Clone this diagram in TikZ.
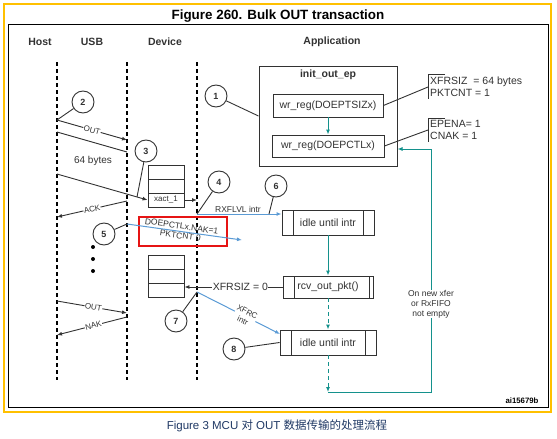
\documentclass[tikz,border=0pt]{standalone}
\usepackage{fontspec}
\setmainfont{Liberation Sans}
\newfontfamily\cjk{Noto Sans CJK SC}
\usetikzlibrary{arrows.meta}
\definecolor{stteal}{RGB}{20,145,140}
\definecolor{stblue}{RGB}{91,155,213}
\definecolor{stred}{RGB}{230,20,20}
\definecolor{storange}{RGB}{255,192,0}
\definecolor{stgrey}{RGB}{50,50,50}
\definecolor{capblue}{RGB}{31,56,100}
\tikzstyle{num}=[circle,draw=stgrey,line width=0.9pt,minimum size=22pt,inner sep=0pt,text=stgrey,font=\fontsize{9}{10}\selectfont\bfseries]
\tikzstyle{head}=[text=stgrey,font=\fontsize{10.5}{12}\selectfont\bfseries]
\tikzstyle{life}=[line width=1.4pt,dash pattern=on 4pt off 3pt]
\tikzstyle{wire}=[stgrey,line width=0.9pt]
\tikzstyle{msg}=[wire,-{Latex[length=5pt,width=4pt]}]
\tikzstyle{lbl}=[fill=white,inner sep=0.5pt,text=stgrey,font=\fontsize{8}{9}\selectfont]
\tikzstyle{reg}=[draw=stgrey,line width=0.9pt,minimum height=23pt,text=stgrey,font=\fontsize{10.5}{12}\selectfont]
\tikzstyle{cell}=[draw=stgrey,line width=0.9pt,minimum width=36pt,minimum height=14pt,inner sep=0pt,text=stgrey,font=\fontsize{8}{9}\selectfont]
\tikzstyle{note}=[anchor=west,align=left,inner sep=2pt,text=stgrey,font=\fontsize{10.5}{12}\selectfont]
\tikzstyle{flow}=[stteal,line width=1pt,-{Latex[length=5pt,width=4pt]}]
\tikzstyle{intr}=[stblue,line width=1pt,-{Latex[length=5pt,width=4pt]}]
\tikzset{proc/.style={draw=stgrey,line width=0.9pt,minimum height=25pt,text=stgrey,font=\fontsize{10.5}{12}\selectfont,
    path picture={\draw[stgrey,line width=0.9pt]
      ([xshift=11pt]path picture bounding box.north west) -- ([xshift=11pt]path picture bounding box.south west)
      ([xshift=-#1]path picture bounding box.north east) -- ([xshift=-#1]path picture bounding box.south east);}},
  proc/.default=11pt}

\begin{document}
\begin{tikzpicture}[x=1pt,y=-1pt]
    \useasboundingbox (0,0) rectangle (557,439);
    \draw[storange,line width=2.5pt] (4,4) rectangle (551,412);
    \draw[line width=1pt] (8,24) rectangle (548,407);
    \node[font=\fontsize{13.4}{15}\selectfont\bfseries] (title) at (278,16) {Figure 260. Bulk OUT transaction};
    \node[text=capblue,font=\fontsize{11.5}{13}\selectfont] (cap) at (277,426) {Figure 3 MCU {\cjk 对} OUT {\cjk 数据传输的处理流程}};
    \node[font=\fontsize{7.8}{9}\selectfont\bfseries] (ai) at (522,401) {ai15679b};
% lifelines
    \node[head] (host) at (40,42) {Host};
    \node[head] (usb) at (92,42) {USB};
    \node[head] (dev) at (165,42) {Device};
    \node[head] (app) at (332,42) {Application};
    \coordinate (hostT) at (57,62);   \coordinate (hostB) at (57,380);
    \coordinate (usbT) at (127,62);   \coordinate (usbB) at (127,380);
    \coordinate (devT) at (197,62);   \coordinate (devB) at (197,380);
    \draw[life] (hostT) -- (hostB);
    \draw[life] (usbT) -- (usbB);
    \draw[life] (devT) -- (devB);
% application side
    \node[draw=stgrey,line width=1pt,minimum width=138pt,minimum height=100pt] (init) at (328,116) {};
    \node[text=stgrey,font=\fontsize{10.5}{12}\selectfont\bfseries] (initl) at (328,75) {init\_out\_ep};
    \node[reg,minimum width=110pt] (tsiz) at (328,105.5) {wr\_reg(DOEPTSIZx)};
    \node[reg,minimum width=112pt,minimum height=22pt] (ctl) at (328,146) {wr\_reg(DOEPCTLx)};
    \node[note] (sz) at (428,87) {XFRSIZ\ \ = 64 bytes\\PKTCNT = 1};
    \node[note] (en) at (428,130) {EPENA= 1\\CNAK = 1};
    \draw[wire] ([xshift=17pt]sz.north west) -- (sz.north west) -- (sz.south west);
    \draw[wire] ([xshift=17pt]en.north west) -- (en.north west) -- (en.south west);
    \draw[wire] (tsiz.east) -- (sz.west);
    \draw[wire] (ctl.east) -- (en.west);
    \draw[flow] (tsiz) -- (ctl);
    \node[proc,minimum width=92pt] (idle1) at (328,222.5) {idle until intr};
    \node[proc=4pt,minimum width=90pt,minimum height=22pt] (rcv) at (328,287) {rcv\_out\_pkt()};
    \node[proc,minimum width=96pt] (idle2) at (328,342.5) {idle until intr};
    \draw[flow] (idle1) -- (rcv);
    \draw[flow,dash pattern=on 4pt off 3pt] (rcv) -- (idle2);
    \coordinate (loopB) at (328,392);
    \coordinate (loopR) at (431,392);
    \coordinate (loopT) at (431,149);
    \draw[flow,dash pattern=on 4pt off 3pt] (idle2) -- (loopB);
    \draw[flow] (loopB) -- (loopR) -- (loopT) -- (loopT -| init.east);
    \node[lbl,align=center,font=\fontsize{8.5}{10}\selectfont] (xfer) at (431,304) {On new xfer\\or RxFIFO\\not empty};
% fifo
    \node[cell] (u1) at (166,172) {};
    \node[cell] (u2) at (166,186) {};
    \node[cell] (u3) at (166,200) {xact\_1};
    \node[cell] (l1) at (166,262) {};
    \node[cell] (l2) at (166,276) {};
    \node[cell] (l3) at (166,290) {};
% host and usb
    \coordinate (out1s) at (57,120);  \coordinate (out1e) at (127,140);
    \coordinate (dat1s) at (57,132);  \coordinate (dat1e) at (127,152);
    \coordinate (dat2s) at (57,174);
    \coordinate (ack1s) at (127,201); \coordinate (ack1e) at (57,217);
    \coordinate (out2s) at (57,301);  \coordinate (out2e) at (127,313);
    \coordinate (nak1s) at (127,317); \coordinate (nak1e) at (57,335);
    \draw[msg] (out1s) -- node[lbl,sloped] {OUT} (out1e);
    \draw[wire] (dat1s) -- (dat1e);
    \draw[msg] (dat2s) -- (u3.west);
    \node[text=stgrey,font=\fontsize{10}{12}\selectfont] (bytes) at (93,161) {64 bytes};
    \draw[msg] (ack1s) -- node[lbl,sloped] {ACK} (ack1e);
    \draw[msg] (u3.east) -- (u3.east -| devT);
    \draw[msg] (out2s) -- node[lbl,sloped,pos=0.52] {OUT} (out2e);
    \draw[msg] (nak1s) -- node[lbl,sloped,pos=0.48] {NAK} (nak1e);
    \fill[black] (93,247) circle (2pt) (93,259) circle (2pt) (93,271) circle (2pt);
% interrupts
    \coordinate (rxs) at (197,214);
    \coordinate (p6) at (269,214);
    \coordinate (naks) at (127,224);
    \coordinate (nake) at (242,240);
    \coordinate (xcs) at (197,292);
    \coordinate (xce) at (280,334);
    \coordinate (p3) at (137,197);
    \draw[intr] (rxs) -- (rxs -| idle1.west);
    \node[text=stgrey,font=\fontsize{8.5}{10}\selectfont] (rxl) at (238,209) {RXFLVL intr};
    \node[draw=stred,line width=1.5pt,minimum width=88pt,minimum height=29pt] (nakbox) at (183,231.5) {};
    \node[rotate=-8,align=center,text=stgrey,font=\fontsize{8.5}{9.5}\selectfont] (naktxt) at (181,231) {DOEPCTLx.NAK=1\\PKTCNT 0};
    \draw[intr] (naks) -- (nake);
    \draw[msg] (rcv.west) -- node[lbl,pos=0.43,font=\fontsize{10.5}{12}\selectfont] {XFRSIZ = 0} (rcv.west -| l3.east);
    \draw[intr] (xcs) -- node[lbl,sloped,pos=0.58,align=center,font=\fontsize{8}{10}\selectfont] {XFRC\\intr} (xce);
% numbers
    \node[num] (c1) at (216,96) {1};
    \node[num] (c2) at (83,102) {2};
    \node[num] (c3) at (146,151) {3};
    \node[num] (c4) at (219,182) {4};
    \node[num] (c5) at (104,234) {5};
    \node[num] (c6) at (276,186) {6};
    \node[num] (c7) at (176,321) {7};
    \node[num] (c8) at (234,349) {8};
    \draw[wire] (c1) -- (init.west);
    \draw[wire] (c2) -- (out1s);
    \draw[wire] (c3) -- (p3);
    \draw[wire] (c4) -- (rxs);
    \draw[wire] (c5) -- (naks);
    \draw[wire] (c6) -- (p6);
    \draw[wire] (c7) -- (xcs);
    \draw[wire] (c8) -- (idle2.west);
\end{tikzpicture}
\end{document}
